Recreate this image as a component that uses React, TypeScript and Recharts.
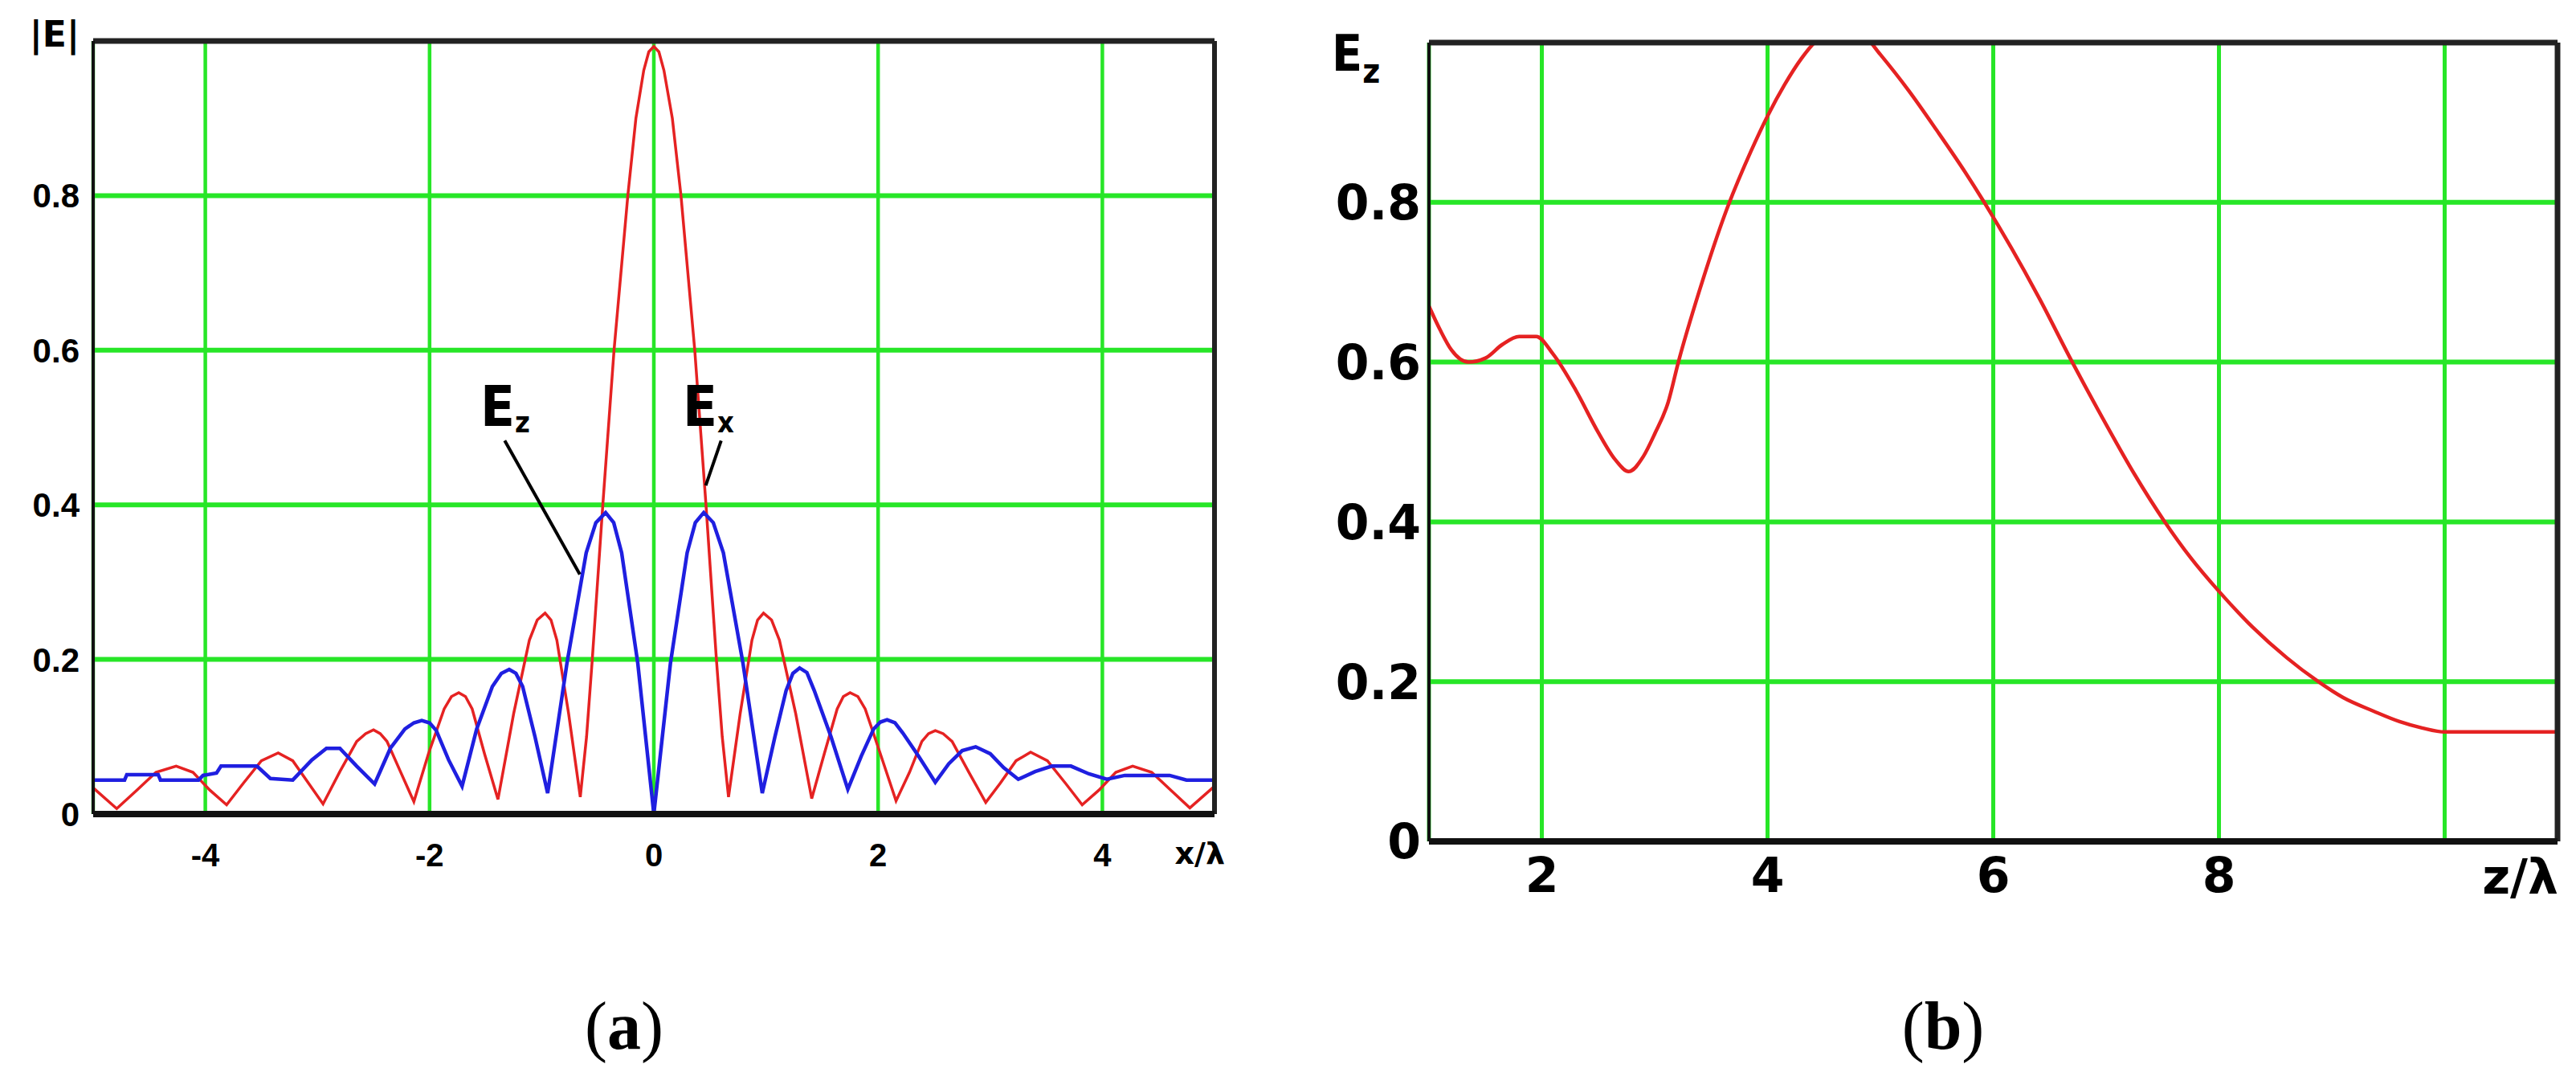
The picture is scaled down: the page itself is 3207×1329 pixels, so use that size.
import { CartesianGrid, Line, LineChart, ReferenceLine, XAxis, YAxis } from 'recharts'

// |E| across the focus, x/λ from -5 to 5 (panel a)
const EX_A: [number, number][] = [
  [-5.0, 0.034], [-4.79, 0.007], [-4.61, 0.031], [-4.44, 0.054], [-4.26, 0.062], [-4.11, 0.054], [-3.96, 0.031], [-3.81, 0.012],
  [-3.66, 0.04], [-3.5, 0.069], [-3.35, 0.079], [-3.22, 0.069], [-3.08, 0.04], [-2.95, 0.013],
  [-2.8, 0.055], [-2.65, 0.094], [-2.57, 0.104], [-2.5, 0.109], [-2.44, 0.104], [-2.38, 0.094], [-2.26, 0.055], [-2.14, 0.016],
  [-2.01, 0.078], [-1.87, 0.136], [-1.805, 0.152], [-1.74, 0.157], [-1.68, 0.152], [-1.62, 0.136], [-1.51, 0.078], [-1.39, 0.019],
  [-1.25, 0.13], [-1.11, 0.225], [-1.04, 0.251], [-0.97, 0.26], [-0.917, 0.251], [-0.865, 0.225], [-0.76, 0.13], [-0.656, 0.022],
  [-0.6, 0.1], [-0.549, 0.2], [-0.455, 0.4], [-0.355, 0.6], [-0.232, 0.8], [-0.16, 0.9], [-0.09, 0.962], [-0.045, 0.986], [0, 0.993],
  [0.045, 0.986], [0.09, 0.962], [0.165, 0.9], [0.242, 0.8], [0.365, 0.6], [0.465, 0.4], [0.558, 0.2], [0.61, 0.1], [0.666, 0.022],
  [0.77, 0.13], [0.875, 0.225], [0.925, 0.251], [0.978, 0.26], [1.05, 0.251], [1.12, 0.225], [1.265, 0.13], [1.408, 0.02],
  [1.52, 0.078], [1.635, 0.136], [1.69, 0.152], [1.75, 0.157], [1.82, 0.152], [1.885, 0.136], [2.02, 0.078], [2.16, 0.017],
  [2.28, 0.054], [2.39, 0.094], [2.45, 0.104], [2.51, 0.108], [2.58, 0.104], [2.66, 0.094], [2.81, 0.054], [2.96, 0.015],
  [3.09, 0.04], [3.23, 0.069], [3.36, 0.08], [3.51, 0.069], [3.67, 0.04], [3.82, 0.012],
  [3.97, 0.031], [4.12, 0.054], [4.27, 0.062], [4.44, 0.054], [4.61, 0.031], [4.78, 0.008], [5.0, 0.036],
]

const EZ_A: [number, number][] = [
  [-5.0, 0.044], [-4.72, 0.044], [-4.7, 0.051], [-4.42, 0.051], [-4.4, 0.044], [-4.06, 0.044], [-4.02, 0.05], [-3.9, 0.053],
  [-3.86, 0.062], [-3.54, 0.062], [-3.42, 0.046], [-3.22, 0.044], [-3.05, 0.07], [-2.92, 0.085], [-2.8, 0.085], [-2.65, 0.062],
  [-2.49, 0.039], [-2.35, 0.085], [-2.22, 0.11], [-2.14, 0.118], [-2.07, 0.121], [-2.0, 0.118], [-1.94, 0.108], [-1.83, 0.07], [-1.71, 0.036],
  [-1.58, 0.11], [-1.44, 0.165], [-1.36, 0.182], [-1.29, 0.187], [-1.23, 0.182], [-1.17, 0.165], [-1.06, 0.1], [-0.947, 0.027],
  [-0.775, 0.195], [-0.603, 0.338], [-0.517, 0.377], [-0.43, 0.39], [-0.358, 0.377], [-0.287, 0.338], [-0.143, 0.195], [0, 0],
  [0.148, 0.195], [0.297, 0.338], [0.37, 0.377], [0.445, 0.39], [0.53, 0.377], [0.62, 0.338], [0.795, 0.195], [0.967, 0.027],
  [1.08, 0.1], [1.18, 0.16], [1.24, 0.182], [1.3, 0.189], [1.365, 0.183], [1.43, 0.16], [1.58, 0.1], [1.73, 0.032],
  [1.85, 0.075], [1.96, 0.11], [2.02, 0.119], [2.08, 0.122], [2.15, 0.118], [2.22, 0.105], [2.36, 0.075], [2.51, 0.041],
  [2.63, 0.065], [2.75, 0.082], [2.87, 0.087], [3.0, 0.078], [3.12, 0.06], [3.25, 0.045],
  [3.4, 0.055], [3.55, 0.062], [3.72, 0.062], [3.88, 0.052], [4.04, 0.045], [4.2, 0.05], [4.6, 0.05], [4.75, 0.044], [5.0, 0.044],
]

// Ez along the axis, z/λ from 1 to 11 (panel b); peak runs past the top edge
const EZ_B: [number, number][] = [
  [1.0, 0.67], [1.1, 0.64], [1.2, 0.615], [1.35, 0.6], [1.5, 0.605], [1.65, 0.622], [1.8, 0.632], [1.95, 0.632],
  [2.1, 0.61], [2.3, 0.565], [2.5, 0.512], [2.65, 0.478], [2.77, 0.463], [2.9, 0.482], [3.0, 0.51], [3.12, 0.55],
  [3.21, 0.6], [3.4, 0.691], [3.63, 0.788], [3.85, 0.863], [4.0, 0.908], [4.15, 0.947], [4.3, 0.98], [4.45, 1.005],
  [4.65, 1.021], [4.85, 1.01], [5.0, 0.985], [5.25, 0.94], [5.5, 0.89], [5.75, 0.838], [5.92, 0.8], [6.16, 0.743],
  [6.4, 0.682], [6.7, 0.6], [7.0, 0.522], [7.25, 0.46], [7.52, 0.4], [7.75, 0.355], [8.0, 0.313], [8.3, 0.268],
  [8.6, 0.23], [8.88, 0.2], [9.1, 0.18], [9.37, 0.163], [9.6, 0.15], [9.8, 0.142], [10.0, 0.137], [11.0, 0.137],
]

const X_TICKS_A = [-4, -2, 0, 2, 4]
const X_TICKS_B = [2, 4, 6, 8, 10]
const Y_TICKS = [0, 0.2, 0.4, 0.6, 0.8]

const GREEN = '#27e627'
const RED = '#e52222'
const BLUE = '#1f1fe0'
const SANS = '"DejaVu Sans", Arial, sans-serif'
const ARIAL = '"Liberation Sans", Arial, sans-serif'
const NARROW = '"DejaVu Sans Condensed", "Liberation Sans Narrow", Arial, sans-serif'

const toRows = (pts: [number, number][]) => pts.map(([x, v]) => ({ x, v }))
const fmtY = (v: number) => (v === 0 ? '0' : String(v))

function PanelA() {
  const tickA = { fill: '#000', fontSize: 42, fontWeight: 700, fontFamily: ARIAL }
  return (
    <LineChart width={1600} height={1150} margin={{ top: 51, right: 88, left: 0, bottom: 0 }}>
      <CartesianGrid vertical={false} stroke={GREEN} strokeWidth={6} />
      <CartesianGrid horizontal={false} stroke={GREEN} strokeWidth={4.5} />
      <XAxis
        type="number"
        dataKey="x"
        domain={[-5, 5]}
        ticks={X_TICKS_A}
        interval={0}
        allowDataOverflow
        height={137}
        tickLine={false}
        tickSize={0}
        tickMargin={37}
        axisLine={{ stroke: '#111', strokeWidth: 8 }}
        tick={{ ...tickA, fontSize: 40 }}
      />
      <YAxis
        type="number"
        domain={[0, 1]}
        ticks={Y_TICKS}
        interval={0}
        allowDataOverflow
        width={116}
        tickLine={false}
        tickSize={0}
        tickMargin={17}
        axisLine={{ stroke: '#111', strokeWidth: 4 }}
        tick={tickA}
        tickFormatter={fmtY}
      />
      <Line data={toRows(EX_A)} dataKey="v" type="linear" stroke={RED} strokeWidth={3.5} dot={false} isAnimationActive={false} />
      <Line data={toRows(EZ_A)} dataKey="v" type="linear" stroke={BLUE} strokeWidth={4.5} dot={false} isAnimationActive={false} />
      <ReferenceLine segment={[{ x: -1.33, y: 0.483 }, { x: -0.66, y: 0.31 }]} stroke="#000" strokeWidth={4} />
      <ReferenceLine segment={[{ x: 0.6, y: 0.483 }, { x: 0.463, y: 0.425 }]} stroke="#000" strokeWidth={4} />
      <ReferenceLine y={1} stroke="#222" strokeWidth={7} />
      <ReferenceLine x={5} stroke="#222" strokeWidth={6} />
    </LineChart>
  )
}

function PanelB() {
  const tickB = { fill: '#000', fontSize: 60, fontWeight: 700, fontFamily: SANS }
  return (
    <LineChart width={1607} height={1150} margin={{ top: 53, right: 23, left: 0, bottom: 0 }}>
      <CartesianGrid vertical={false} stroke={GREEN} strokeWidth={6} />
      <CartesianGrid horizontal={false} stroke={GREEN} strokeWidth={5} />
      <XAxis
        type="number"
        dataKey="x"
        domain={[1, 11]}
        ticks={X_TICKS_B}
        interval={0}
        allowDataOverflow
        height={103}
        tickLine={false}
        tickSize={0}
        tickMargin={20}
        axisLine={{ stroke: '#111', strokeWidth: 8 }}
        tick={tickB}
        tickFormatter={(v: number) => (v === 10 ? '' : String(v))}
      />
      <YAxis
        type="number"
        domain={[0, 1]}
        ticks={Y_TICKS}
        interval={0}
        allowDataOverflow
        width={179}
        tickLine={false}
        tickSize={0}
        tickMargin={10}
        axisLine={{ stroke: '#111', strokeWidth: 4 }}
        tick={tickB}
        tickFormatter={fmtY}
      />
      <Line data={toRows(EZ_B)} dataKey="v" type="monotone" stroke={RED} strokeWidth={4.5} dot={false} isAnimationActive={false} />
      <ReferenceLine y={1} stroke="#222" strokeWidth={7} />
      <ReferenceLine x={11} stroke="#222" strokeWidth={7} />
    </LineChart>
  )
}

export default function App() {
  return (
    <div style={{ position: 'absolute', left: 0, top: 0, width: 3207, height: 1329, background: '#fff', overflow: 'hidden' }}>
      <div style={{ position: 'absolute', left: 0, top: 0 }}>
        <PanelA />
      </div>
      <div style={{ position: 'absolute', left: 1600, top: 0 }}>
        <PanelB />
      </div>
      <svg width={3207} height={1329} style={{ position: 'absolute', left: 0, top: 0, pointerEvents: 'none' }}>
        <g fill="#000" fontWeight={700} fontFamily={SANS}>
          <text x={99} y={58} fontSize={44} textAnchor="end">|E|</text>
          <text x={1525} y={1075} fontSize={38} textAnchor="end">x/λ</text>
          <text x={3185} y={1112} fontSize={60} textAnchor="end">z/λ</text>
        </g>
        <g fill="#000" fontWeight={700} fontFamily={NARROW}>
          <text x={598} y={530} fontSize={70}>
            E<tspan fontSize={36} dy={8}>z</tspan>
          </text>
          <text x={850} y={530} fontSize={70}>
            E<tspan fontSize={36} dy={8}>x</tspan>
          </text>
          <text x={1658} y={88} fontSize={62}>
            E<tspan fontSize={42} dy={15}>z</tspan>
          </text>
        </g>
        <g fill="#000" fontFamily='"Liberation Serif", "DejaVu Serif", serif' fontSize={84}>
          <text x={777} y={1305} textAnchor="middle">
            (<tspan fontWeight={700}>a</tspan>)
          </text>
          <text x={2419} y={1305} textAnchor="middle">
            (<tspan fontWeight={700}>b</tspan>)
          </text>
        </g>
      </svg>
    </div>
  )
}
